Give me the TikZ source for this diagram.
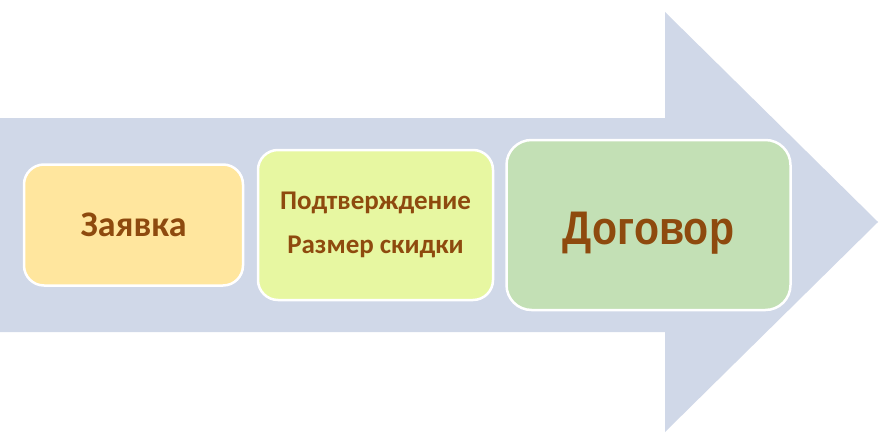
\documentclass[tikz,border=0pt]{standalone}
\usepackage{graphicx}
\usepackage{fontspec}
\setmainfont{Carlito}
\newfontfamily\arialfont{Liberation Sans}
\definecolor{arrowfill}{HTML}{D0D8E8}
\definecolor{boxA}{HTML}{FFE69E}
\definecolor{boxB}{HTML}{E7F7A1}
\definecolor{boxC}{HTML}{C3E0B5}
\definecolor{txt}{HTML}{8E4A0E}
\begin{document}
\begin{tikzpicture}[x=1pt,y=-1pt,
  stepbox/.style={draw=white, line width=2.5pt, rounded corners=20pt, inner sep=0pt, text=txt, font=\bfseries, align=center}]
\useasboundingbox (0,0) rectangle (880,444);
\fill[white] (0,0) rectangle (880,444);
\fill[arrowfill] (0,118) -- (665,118) -- (665,12) -- (878,222) -- (665,432) -- (665,332) -- (0,332) -- cycle;
\node[stepbox, fill=boxA, minimum width=219pt, minimum height=121pt, font=\fontsize{36}{40}\selectfont\bfseries] (a) at (133.5,225) {Заявка};
\node[stepbox, fill=boxB, minimum width=235pt, minimum height=150pt, font=\fontsize{27}{44}\selectfont\bfseries] (b) at (375.5,225) {Подтверждение\\Размер скидки};
\node[stepbox, fill=boxC, rounded corners=25pt, minimum width=284pt, minimum height=170pt, font=\fontsize{41}{48}\selectfont\arialfont\bfseries] (c) at (648.5,225) {\raisebox{-19pt}[0pt][0pt]{\scalebox{1}[1.15]{Договор}}};
\end{tikzpicture}
\end{document}
